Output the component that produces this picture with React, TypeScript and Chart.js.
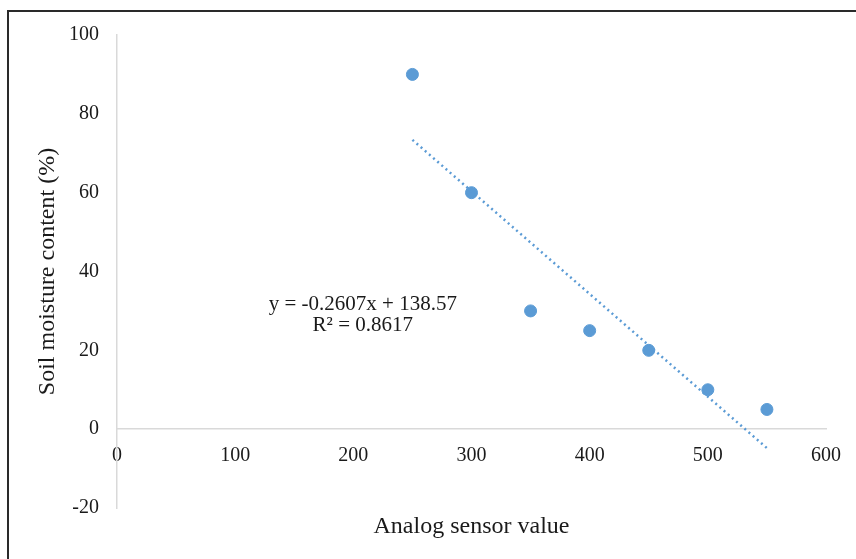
import React, { useEffect, useRef } from "react";
import { Chart, registerables } from "chart.js";

Chart.register(...registerables);

const sensorValues = [250, 300, 350, 400, 450, 500, 550];
const moistureValues = [90, 60, 30, 25, 20, 10, 5];
const trendX = [250, 550];
const trendY = [73.4, -4.8];
const equationLines = ["y = -0.2607x + 138.57", "R² = 0.8617"];
const xTitle = "Analog sensor value";
const yTitle = "Soil moisture content (%)";

const FONT = "'Liberation Serif', 'Times New Roman', serif";
const BLUE = "#5b9bd5";
const TEXT = "#1a1a1a";
const AXIS = "#d9d9d9";

export default function App() {
  const ref = useRef<HTMLCanvasElement | null>(null);

  useEffect(() => {
    if (!ref.current) return;
    const decor = {
      id: "decor",
      afterDraw(chart: any) {
        const ctx = chart.ctx;
        const ca = chart.chartArea;
        const xs = chart.scales.x;
        const ys = chart.scales.y;
        ctx.save();
        // frame
        ctx.strokeStyle = "#2a2a2a";
        ctx.lineWidth = 2;
        ctx.beginPath();
        ctx.moveTo(8, 559);
        ctx.lineTo(8, 11);
        ctx.lineTo(856, 11);
        ctx.stroke();
        // titles
        ctx.fillStyle = TEXT;
        ctx.font = `24px ${FONT}`;
        ctx.textAlign = "center";
        ctx.textBaseline = "middle";
        ctx.fillText(xTitle, (ca.left + ca.right) / 2, ca.bottom + 19);
        ctx.save();
        ctx.translate(48, (ca.top + ca.bottom) / 2);
        ctx.rotate(-Math.PI / 2);
        ctx.fillText(yTitle, 0, 0);
        ctx.restore();
        // equation
        ctx.font = `21px ${FONT}`;
        const ex = xs.getPixelForValue(208);
        const ey = ys.getPixelForValue(31.6);
        ctx.fillText(equationLines[0], ex, ey);
        ctx.fillText(equationLines[1], ex, ey + 21);
        ctx.restore();
      },
    };

    const chart = new Chart(ref.current, {
      type: "scatter",
      data: {
        datasets: [
          {
            type: "line",
            data: trendX.map((x, i) => ({ x, y: trendY[i] })),
            borderColor: BLUE,
            borderWidth: 2.5,
            borderDash: [2, 3.5],
            borderCapStyle: "butt",
            pointRadius: 0,
            fill: false,
          } as any,
          {
            data: sensorValues.map((x, i) => ({ x, y: moistureValues[i] })),
            backgroundColor: BLUE,
            borderColor: BLUE,
            pointRadius: 6,
            pointHoverRadius: 6,
          },
        ],
      },
      options: {
        responsive: false,
        animation: false,
        layout: { padding: { left: 0, top: 35, right: 29, bottom: 51 } },
        plugins: {
          legend: { display: false },
          tooltip: { enabled: false },
        },
        scales: {
          x: {
            type: "linear",
            position: { y: 0 } as any,
            min: 0,
            max: 600,
            grid: { display: false, drawTicks: false },
            border: { display: true, color: AXIS, width: 1.5 },
            ticks: {
              stepSize: 100,
              padding: 15,
              color: TEXT,
              font: { family: FONT, size: 20 },
            },
          },
          y: {
            type: "linear",
            min: -20,
            max: 100,
            afterFit: (s: any) => {
              s.width = 117;
            },
            grid: { display: false, drawTicks: false },
            border: { display: true, color: AXIS, width: 1.5 },
            ticks: {
              stepSize: 20,
              padding: 18,
              color: TEXT,
              font: { family: FONT, size: 20 },
            },
          },
        },
      },
      plugins: [decor],
    });
    return () => chart.destroy();
  }, []);

  return (
    <div style={{ position: "absolute", left: 0, top: 0, width: 856, height: 559, background: "#fff" }}>
      <canvas ref={ref} width={856} height={559} />
    </div>
  );
}
